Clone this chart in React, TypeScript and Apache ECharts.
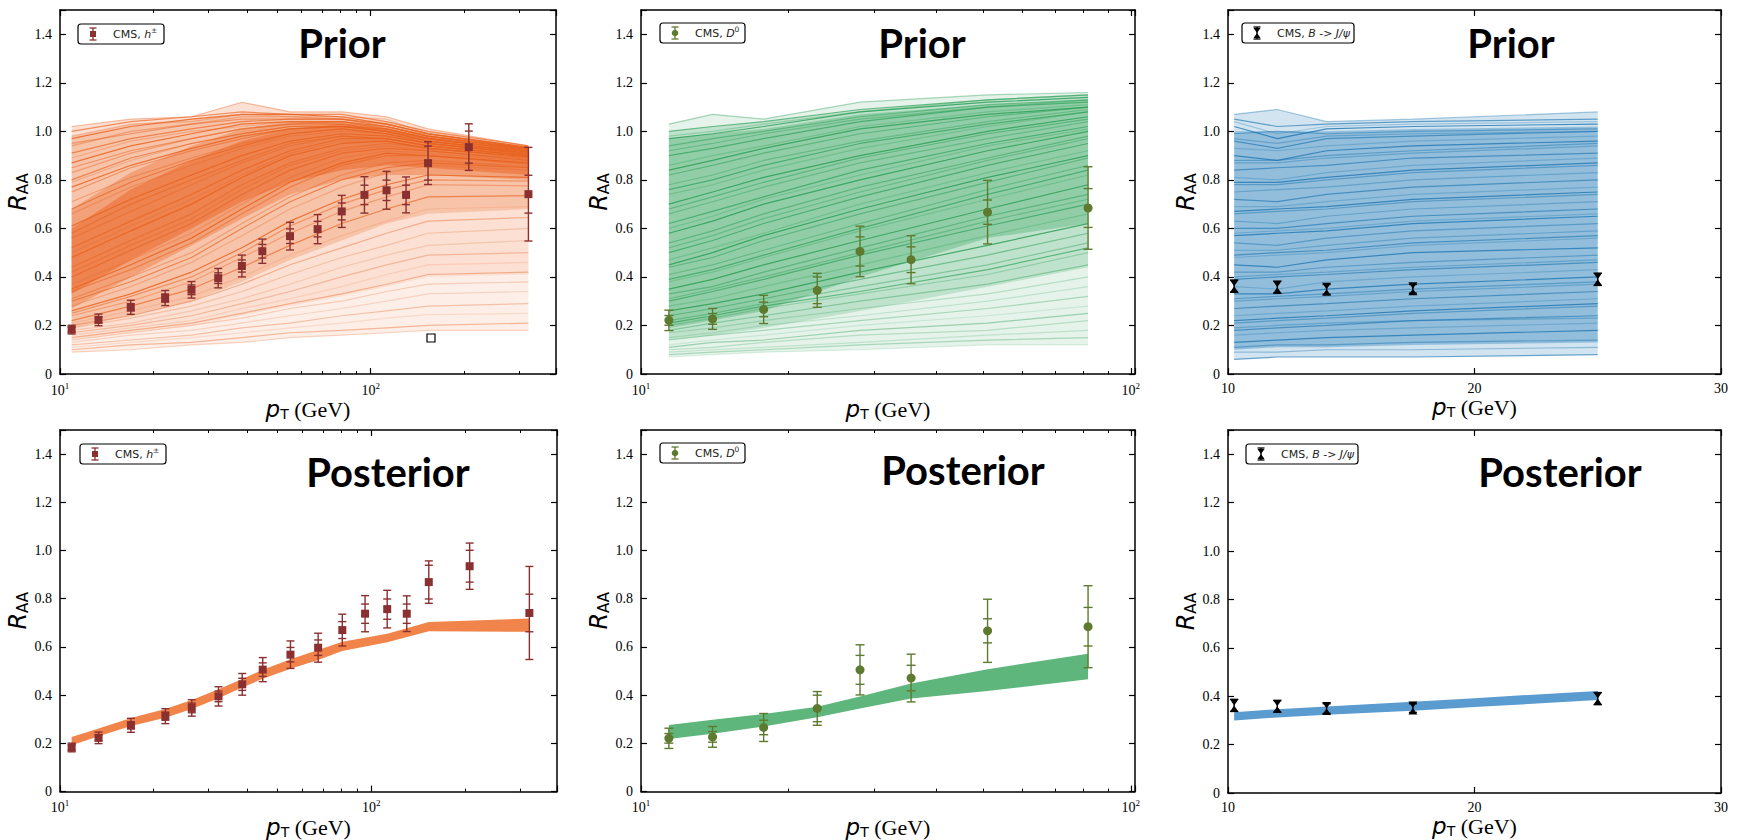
import React, { useEffect, useRef } from 'react';
import * as echarts from 'echarts';

// ---------------- CMS data ----------------
const H_PT = [10.9, 13.3, 16.9, 21.8, 26.5, 32.3, 38.5, 44.8, 55, 67.5, 80.7, 95.5, 112.5, 130, 153, 207, 322];
const H_RAA = [0.183, 0.223, 0.275, 0.313, 0.347, 0.395, 0.445, 0.506, 0.568, 0.597, 0.67, 0.738, 0.757, 0.738, 0.869, 0.935, 0.741];
const H_ERR_TOT = [0.018, 0.024, 0.029, 0.031, 0.034, 0.04, 0.045, 0.05, 0.057, 0.06, 0.066, 0.075, 0.078, 0.074, 0.088, 0.096, 0.193];
const H_ERR_STAT = [0.01, 0.012, 0.015, 0.017, 0.02, 0.022, 0.025, 0.028, 0.03, 0.032, 0.035, 0.04, 0.042, 0.04, 0.07, 0.066, 0.078];

const D_PT = [11.4, 14.0, 17.8, 22.9, 28.0, 35.6, 51.0, 81.8];
const D_RAA = [0.221, 0.227, 0.266, 0.345, 0.505, 0.471, 0.667, 0.684];
const D_ERR_TOT = [0.042, 0.043, 0.058, 0.07, 0.104, 0.099, 0.131, 0.17];
const D_ERR_STAT = [0.02, 0.022, 0.03, 0.055, 0.06, 0.053, 0.05, 0.08];

const B_PT = [10.25, 12.0, 14.0, 17.5, 25.0];
const B_RAA = [0.362, 0.358, 0.349, 0.351, 0.39];
const B_ERR_TOT = [0.025, 0.024, 0.02, 0.018, 0.025];

// ---------------- Posterior bands ----------------
const H_POST_PT = [10.9, 13.3, 16.9, 21.8, 26.5, 32.3, 38.5, 44.8, 55, 67.5, 80.7, 112.5, 153, 322];
const H_POST_LO = [0.192, 0.23, 0.272, 0.306, 0.343, 0.387, 0.432, 0.468, 0.51, 0.546, 0.583, 0.62, 0.665, 0.663];
const H_POST_HI = [0.226, 0.262, 0.305, 0.343, 0.38, 0.425, 0.467, 0.505, 0.549, 0.587, 0.622, 0.655, 0.704, 0.718];

const D_POST_PT = [11.4, 14.0, 17.8, 22.9, 28.0, 35.6, 51.0, 81.8];
const D_POST_LO = [0.218, 0.24, 0.27, 0.308, 0.345, 0.386, 0.417, 0.466];
const D_POST_HI = [0.276, 0.298, 0.322, 0.352, 0.395, 0.448, 0.508, 0.572];

const B_POST_PT = [10.25, 12.0, 14.0, 17.5, 20.0, 25.0];
const B_POST_LO = [0.300, 0.312, 0.323, 0.340, 0.355, 0.384];
const B_POST_HI = [0.334, 0.346, 0.357, 0.377, 0.392, 0.422];

// ---------------- Prior curves (read by eye, a subset of the ensemble) ----------------
const H_PRIOR_PT = [10.9, 16.9, 26.5, 38.5, 55, 80.7, 112.5, 153, 322];
const H_PRIOR = [
  [1.02, 1.05, 1.06, 1.12, 1.08, 1.08, 1.06, 1.01, 0.94],
  [1.00, 1.04, 1.06, 1.08, 1.07, 1.07, 1.04, 1.00, 0.94],
  [0.98, 1.03, 1.04, 1.07, 1.06, 1.06, 1.05, 0.99, 0.935],
  [0.97, 1.02, 1.05, 1.07, 1.07, 1.06, 1.03, 0.99, 0.935],
  [0.95, 0.99, 1.03, 1.05, 1.05, 1.05, 1.03, 0.99, 0.93],
  [0.94, 1.00, 1.03, 1.06, 1.06, 1.05, 1.03, 0.99, 0.93],
  [0.91, 0.97, 1.01, 1.04, 1.05, 1.05, 1.02, 0.98, 0.93],
  [0.89, 0.96, 1.00, 1.02, 1.04, 1.03, 1.02, 0.98, 0.93],
  [0.87, 0.94, 0.99, 1.03, 1.04, 1.04, 1.02, 0.98, 0.925],
  [0.85, 0.92, 0.97, 1.01, 1.03, 1.04, 1.01, 0.97, 0.925],
  [0.83, 0.91, 0.97, 1.01, 1.03, 1.03, 1.01, 0.97, 0.92],
  [0.80, 0.89, 0.95, 0.99, 1.02, 1.02, 1.01, 0.97, 0.92],
  [0.79, 0.88, 0.95, 0.99, 1.02, 1.03, 1.00, 0.97, 0.92],
  [0.77, 0.86, 0.93, 0.98, 1.01, 1.02, 1.00, 0.96, 0.915],
  [0.75, 0.85, 0.92, 0.97, 1.01, 1.02, 1.00, 0.96, 0.915],
  [0.71, 0.81, 0.89, 0.95, 0.99, 1.01, 0.99, 0.96, 0.91],
  [0.68, 0.79, 0.88, 0.94, 0.99, 1.01, 0.99, 0.95, 0.91],
  [0.66, 0.77, 0.86, 0.93, 0.98, 1.00, 0.99, 0.95, 0.91],
  [0.61, 0.72, 0.82, 0.90, 0.96, 0.99, 0.98, 0.95, 0.905],
  [0.58, 0.70, 0.80, 0.88, 0.95, 0.98, 0.97, 0.94, 0.90],
  [0.56, 0.67, 0.78, 0.87, 0.94, 0.98, 0.97, 0.94, 0.90],
  [0.52, 0.63, 0.74, 0.84, 0.92, 0.97, 0.97, 0.94, 0.90],
  [0.50, 0.61, 0.72, 0.82, 0.91, 0.96, 0.96, 0.93, 0.895],
  [0.48, 0.59, 0.70, 0.81, 0.90, 0.95, 0.96, 0.93, 0.895],
  [0.44, 0.55, 0.66, 0.78, 0.87, 0.93, 0.95, 0.93, 0.89],
  [0.42, 0.53, 0.64, 0.76, 0.86, 0.92, 0.94, 0.92, 0.885],
  [0.40, 0.51, 0.62, 0.74, 0.84, 0.91, 0.93, 0.92, 0.88],
  [0.37, 0.47, 0.58, 0.70, 0.81, 0.89, 0.92, 0.91, 0.875],
  [0.35, 0.45, 0.56, 0.68, 0.79, 0.87, 0.91, 0.90, 0.87],
  [0.34, 0.43, 0.54, 0.66, 0.77, 0.86, 0.90, 0.90, 0.865],
  [0.31, 0.40, 0.50, 0.62, 0.73, 0.82, 0.87, 0.88, 0.855],
  [0.30, 0.38, 0.48, 0.60, 0.71, 0.80, 0.85, 0.87, 0.85],
  [0.28, 0.36, 0.46, 0.57, 0.68, 0.77, 0.83, 0.86, 0.84],
  [0.26, 0.33, 0.42, 0.52, 0.63, 0.72, 0.78, 0.82, 0.81],
  [0.25, 0.32, 0.40, 0.50, 0.61, 0.70, 0.76, 0.80, 0.795],
  [0.24, 0.30, 0.38, 0.48, 0.58, 0.67, 0.73, 0.78, 0.775],
  [0.22, 0.28, 0.35, 0.44, 0.53, 0.62, 0.68, 0.73, 0.735],
  [0.21, 0.26, 0.32, 0.40, 0.49, 0.57, 0.63, 0.68, 0.69],
  [0.20, 0.24, 0.30, 0.37, 0.45, 0.52, 0.58, 0.63, 0.645],
  [0.19, 0.23, 0.28, 0.34, 0.41, 0.48, 0.53, 0.58, 0.60],
  [0.18, 0.21, 0.26, 0.31, 0.37, 0.44, 0.49, 0.53, 0.55],
  [0.17, 0.20, 0.24, 0.29, 0.34, 0.40, 0.45, 0.49, 0.50],
  [0.16, 0.19, 0.22, 0.27, 0.31, 0.36, 0.41, 0.45, 0.46],
  [0.15, 0.18, 0.21, 0.25, 0.29, 0.33, 0.37, 0.41, 0.42],
  [0.14, 0.17, 0.20, 0.23, 0.27, 0.30, 0.34, 0.37, 0.38],
  [0.13, 0.16, 0.18, 0.21, 0.24, 0.27, 0.30, 0.33, 0.34],
  [0.12, 0.14, 0.16, 0.19, 0.21, 0.24, 0.26, 0.28, 0.29],
  [0.11, 0.13, 0.15, 0.17, 0.19, 0.21, 0.23, 0.245, 0.25],
  [0.10, 0.12, 0.13, 0.15, 0.17, 0.18, 0.19, 0.20, 0.21],
  [0.09, 0.10, 0.12, 0.13, 0.15, 0.16, 0.17, 0.18, 0.18],
];
const H_LOWMID_LO = [0.14, 0.17, 0.20, 0.24, 0.28, 0.32, 0.36, 0.40, 0.41];
const H_MID_LO = [0.19, 0.24, 0.30, 0.38, 0.47, 0.55, 0.62, 0.66, 0.68];
const H_MID_HI = [0.98, 1.03, 1.05, 1.07, 1.07, 1.06, 1.04, 1.00, 0.935];
const H_CORE_LO = [0.27, 0.40, 0.53, 0.64, 0.74, 0.80, 0.82, 0.82, 0.80];
const H_CORE_HI = [0.68, 0.83, 0.94, 1.01, 1.04, 1.04, 1.02, 0.99, 0.935];
const H_DARK_LO = [0.33, 0.47, 0.60, 0.71, 0.79, 0.84, 0.86, 0.85, 0.82];
const H_DARK_HI = [0.60, 0.76, 0.88, 0.96, 1.01, 1.03, 1.01, 0.98, 0.93];

const D_PRIOR_PT = [11.4, 14.0, 17.8, 28.0, 51.0, 81.8];
const D_PRIOR = [
  [1.03, 1.07, 1.05, 1.12, 1.15, 1.16],
  [1.00, 1.02, 1.04, 1.09, 1.13, 1.15],
  [0.98, 1.00, 1.03, 1.08, 1.13, 1.15],
  [0.97, 0.99, 1.02, 1.08, 1.12, 1.14],
  [0.94, 0.97, 1.00, 1.06, 1.11, 1.13],
  [0.92, 0.95, 0.99, 1.05, 1.10, 1.13],
  [0.90, 0.93, 0.97, 1.04, 1.10, 1.12],
  [0.86, 0.90, 0.94, 1.02, 1.08, 1.11],
  [0.84, 0.88, 0.93, 1.01, 1.07, 1.10],
  [0.82, 0.86, 0.91, 0.99, 1.06, 1.10],
  [0.78, 0.82, 0.88, 0.96, 1.04, 1.09],
  [0.76, 0.80, 0.86, 0.95, 1.03, 1.08],
  [0.74, 0.78, 0.84, 0.93, 1.02, 1.08],
  [0.70, 0.75, 0.81, 0.90, 1.00, 1.06],
  [0.68, 0.73, 0.79, 0.89, 0.99, 1.05],
  [0.66, 0.71, 0.77, 0.87, 0.97, 1.04],
  [0.62, 0.67, 0.73, 0.84, 0.95, 1.02],
  [0.60, 0.65, 0.72, 0.82, 0.94, 1.01],
  [0.58, 0.63, 0.70, 0.80, 0.92, 1.00],
  [0.54, 0.59, 0.66, 0.77, 0.89, 0.98],
  [0.52, 0.57, 0.64, 0.75, 0.88, 0.97],
  [0.50, 0.55, 0.62, 0.73, 0.86, 0.95],
  [0.47, 0.52, 0.58, 0.70, 0.83, 0.92],
  [0.45, 0.50, 0.57, 0.68, 0.81, 0.90],
  [0.44, 0.48, 0.55, 0.66, 0.79, 0.89],
  [0.41, 0.45, 0.51, 0.62, 0.76, 0.86],
  [0.39, 0.43, 0.49, 0.60, 0.74, 0.84],
  [0.38, 0.42, 0.48, 0.59, 0.72, 0.82],
  [0.35, 0.39, 0.45, 0.55, 0.68, 0.78],
  [0.33, 0.36, 0.42, 0.52, 0.65, 0.74],
  [0.31, 0.35, 0.40, 0.50, 0.63, 0.72],
  [0.30, 0.34, 0.39, 0.49, 0.61, 0.70],
  [0.28, 0.31, 0.36, 0.45, 0.57, 0.66],
  [0.26, 0.29, 0.33, 0.42, 0.53, 0.62],
  [0.24, 0.27, 0.31, 0.39, 0.49, 0.58],
  [0.22, 0.25, 0.29, 0.36, 0.45, 0.54],
  [0.21, 0.24, 0.28, 0.34, 0.43, 0.52],
  [0.20, 0.23, 0.27, 0.33, 0.41, 0.50],
  [0.18, 0.21, 0.24, 0.30, 0.37, 0.45],
  [0.17, 0.19, 0.22, 0.27, 0.33, 0.40],
  [0.15, 0.17, 0.20, 0.24, 0.30, 0.36],
  [0.14, 0.16, 0.18, 0.22, 0.27, 0.32],
  [0.12, 0.14, 0.16, 0.20, 0.24, 0.28],
  [0.11, 0.13, 0.14, 0.18, 0.21, 0.25],
  [0.10, 0.11, 0.13, 0.16, 0.18, 0.22],
  [0.09, 0.10, 0.11, 0.13, 0.16, 0.18],
  [0.08, 0.09, 0.10, 0.12, 0.14, 0.15],
  [0.07, 0.08, 0.09, 0.10, 0.12, 0.12],
];
const D_MID_LO = [0.14, 0.16, 0.19, 0.26, 0.36, 0.44];
const D_MID_HI = [1.00, 1.02, 1.04, 1.09, 1.13, 1.15];
const D_CORE_LO = [0.19, 0.22, 0.26, 0.40, 0.56, 0.62];
const D_CORE_HI = [0.97, 0.99, 1.01, 1.07, 1.11, 1.13];

const B_PRIOR_PT = [10.25, 12.0, 14.0, 17.5, 25.0];
const B_PRIOR = [
  [1.07, 1.09, 1.04, 1.05, 1.08],
  [1.05, 1.02, 1.03, 1.04, 1.05],
  [1.04, 0.99, 1.02, 1.03, 1.04],
  [1.02, 0.97, 1.01, 1.02, 1.03],
  [0.99, 1.00, 0.99, 1.00, 1.01],
  [0.97, 0.95, 0.98, 0.99, 1.00],
  [0.96, 0.93, 0.97, 0.98, 1.00],
  [0.93, 0.92, 0.94, 0.96, 0.98],
  [0.90, 0.88, 0.92, 0.94, 0.96],
  [0.88, 0.88, 0.90, 0.92, 0.95],
  [0.87, 0.87, 0.89, 0.91, 0.94],
  [0.84, 0.85, 0.86, 0.89, 0.91],
  [0.81, 0.80, 0.83, 0.86, 0.89],
  [0.79, 0.79, 0.81, 0.84, 0.87],
  [0.78, 0.78, 0.80, 0.83, 0.86],
  [0.75, 0.76, 0.77, 0.80, 0.83],
  [0.72, 0.71, 0.74, 0.77, 0.80],
  [0.69, 0.69, 0.71, 0.74, 0.77],
  [0.67, 0.68, 0.69, 0.72, 0.75],
  [0.66, 0.67, 0.68, 0.71, 0.74],
  [0.63, 0.62, 0.65, 0.68, 0.71],
  [0.60, 0.60, 0.62, 0.65, 0.68],
  [0.58, 0.59, 0.60, 0.63, 0.66],
  [0.57, 0.58, 0.59, 0.62, 0.65],
  [0.54, 0.53, 0.56, 0.59, 0.62],
  [0.51, 0.51, 0.53, 0.56, 0.59],
  [0.49, 0.50, 0.51, 0.54, 0.57],
  [0.48, 0.49, 0.50, 0.53, 0.56],
  [0.45, 0.44, 0.47, 0.50, 0.52],
  [0.42, 0.42, 0.44, 0.46, 0.49],
  [0.40, 0.41, 0.42, 0.44, 0.47],
  [0.39, 0.40, 0.41, 0.43, 0.46],
  [0.36, 0.35, 0.38, 0.40, 0.43],
  [0.33, 0.33, 0.35, 0.37, 0.40],
  [0.31, 0.32, 0.33, 0.35, 0.38],
  [0.30, 0.31, 0.32, 0.34, 0.37],
  [0.27, 0.28, 0.29, 0.31, 0.34],
  [0.24, 0.25, 0.26, 0.28, 0.31],
  [0.22, 0.23, 0.24, 0.26, 0.29],
  [0.21, 0.22, 0.23, 0.25, 0.28],
  [0.19, 0.20, 0.21, 0.22, 0.23],
  [0.18, 0.19, 0.20, 0.22, 0.24],
  [0.16, 0.17, 0.18, 0.19, 0.21],
  [0.13, 0.14, 0.15, 0.16, 0.18],
  [0.11, 0.12, 0.12, 0.13, 0.14],
  [0.09, 0.09, 0.10, 0.10, 0.11],
  [0.06, 0.07, 0.07, 0.07, 0.08],
];
const B_CORE_LO = [0.10, 0.11, 0.11, 0.12, 0.13];
const B_CORE_HI = [1.00, 1.00, 1.00, 1.01, 1.02];

const Y_TICKS = [0, 0.2, 0.4, 0.6, 0.8, 1.0, 1.2, 1.4];

// ---------------- layout ----------------
const GRIDS = [
  { left: 60, top: 10, width: 496, height: 364 },
  { left: 641, top: 10, width: 494, height: 364 },
  { left: 1228, top: 10, width: 493, height: 364 },
  { left: 60, top: 430, width: 497, height: 363 },
  { left: 641, top: 430, width: 494, height: 363 },
  { left: 1228, top: 430, width: 493, height: 363 },
];
const X_RANGES: any[] = [
  { type: 'log', min: 10, max: 395 },
  { type: 'log', min: 10, max: 102 },
  { type: 'value', min: 10, max: 30, interval: 10 },
];

const SERIF = 'Liberation Serif';
const SANS = 'DejaVu Sans';

const ORANGE = [232, 96, 28];
const GREEN = [40, 158, 84];
const BLUE = [31, 119, 180];
const rgba = (c: number[], a: number) => `rgba(${c[0]},${c[1]},${c[2]},${a})`;
const LINE_ALPHAS = [0.4, 0.65, 0.3, 0.8, 0.5];

function xAxesFor(gi: number) {
  const r = X_RANGES[gi % 3];
  const isLog = r.type === 'log';
  const base: any = {
    gridIndex: gi,
    type: r.type,
    min: r.min,
    max: r.max,
    splitLine: { show: false },
    axisLine: { show: true, onZero: false, lineStyle: { color: '#000', width: 1.5 } },
    axisTick: { show: true, inside: true, length: 6, lineStyle: { color: '#000', width: 1.2 } },
    minorTick: isLog
      ? { show: true, splitNumber: 9, length: 3, lineStyle: { color: '#000', width: 1 } }
      : { show: false },
  };
  if (isLog) base.logBase = 10;
  if (r.interval) base.interval = r.interval;
  const bottom = {
    ...base,
    position: 'bottom',
    axisLabel: {
      show: true,
      color: '#000',
      fontFamily: SERIF,
      fontSize: 14,
      margin: 7,
      formatter: (v: number) => {
        if (isLog) {
          const l = Math.log10(v);
          const rr = Math.round(l);
          return Math.abs(l - rr) < 1e-6 ? '10{s|' + rr + '}' : '';
        }
        return String(Math.round(v));
      },
      rich: { s: { fontFamily: SERIF, fontSize: 9, padding: [0, 0, 9, 0], color: '#000' } },
    },
    name: '{p|p}{t|T}{g| (GeV)}',
    nameLocation: 'middle',
    nameGap: 18,
    nameTextStyle: {
      color: '#000',
      rich: {
        p: { fontFamily: SANS, fontStyle: 'italic', fontSize: 23, color: '#000' },
        t: { fontFamily: SANS, fontSize: 14, padding: [10, 0, 0, 0], color: '#000' },
        g: { fontFamily: SERIF, fontSize: 22, color: '#000' },
      },
    },
  };
  const top = { ...base, position: 'top', axisLabel: { show: false } };
  return [bottom, top];
}

function yAxesFor(gi: number) {
  const base: any = {
    gridIndex: gi,
    type: 'value',
    min: 0,
    max: 1.5,
    interval: 0.2,
    splitLine: { show: false },
    axisLine: { show: true, onZero: false, lineStyle: { color: '#000', width: 1.5 } },
    axisTick: { show: true, inside: true, length: 6, lineStyle: { color: '#000', width: 1.2 } },
  };
  const left = {
    ...base,
    position: 'left',
    axisLabel: {
      show: true,
      color: '#000',
      fontFamily: SERIF,
      fontSize: 14,
      margin: 8,
      formatter: (v: number) => {
        const t = Y_TICKS.find((k) => Math.abs(k - v) < 1e-6);
        if (t === undefined) return '';
        return t === 0 ? '0' : t.toFixed(1);
      },
    },
    name: '{r|R}{s|AA}',
    nameLocation: 'middle',
    nameRotate: 90,
    nameGap: 27,
    nameTextStyle: {
      color: '#000',
      rich: {
        r: { fontFamily: SANS, fontStyle: 'italic', fontSize: 24, color: '#000' },
        s: { fontFamily: SANS, fontSize: 15, padding: [10, 0, 0, 0], color: '#000' },
      },
    },
  };
  const right = { ...base, position: 'right', axisLabel: { show: false } };
  return [left, right];
}

function bandSeries(gi: number, xs: number[], lo: number[], hi: number[], color: string, z: number) {
  return {
    type: 'custom',
    xAxisIndex: 2 * gi,
    yAxisIndex: 2 * gi,
    z,
    silent: true,
    clip: true,
    data: [[xs[0], lo[0]]],
    renderItem: (_p: any, api: any) => {
      const pts: number[][] = [];
      for (let i = 0; i < xs.length; i++) pts.push(api.coord([xs[i], hi[i]]));
      for (let i = xs.length - 1; i >= 0; i--) pts.push(api.coord([xs[i], lo[i]]));
      return { type: 'polygon', shape: { points: pts }, style: { fill: color, stroke: 'none' } };
    },
  };
}

function curveSeries(gi: number, xs: number[], ys: number[], color: string, z: number) {
  return {
    type: 'line',
    xAxisIndex: 2 * gi,
    yAxisIndex: 2 * gi,
    z,
    silent: true,
    symbol: 'none',
    lineStyle: { color, width: 1.2 },
    data: xs.map((x, i) => [x, ys[i]]),
  };
}

function errorSeries(gi: number, xs: number[], ys: number[], tot: number[], stat: number[] | null, color: string, capHalf: number) {
  return {
    type: 'custom',
    xAxisIndex: 2 * gi,
    yAxisIndex: 2 * gi,
    z: 8,
    silent: true,
    data: xs.map((x, i) => [x, ys[i], tot[i], stat ? stat[i] : 0]),
    encode: { x: 0, y: 1 },
    renderItem: (_p: any, api: any) => {
      const x = api.value(0);
      const y = api.value(1);
      const t = api.value(2);
      const s = api.value(3);
      const pt = api.coord([x, y + t]);
      const pb = api.coord([x, y - t]);
      const st = { stroke: color, lineWidth: 1.4 };
      const cap = (p: number[]) => ({
        type: 'line',
        shape: { x1: p[0] - capHalf, y1: p[1], x2: p[0] + capHalf, y2: p[1] },
        style: st,
      });
      const children: any[] = [
        { type: 'line', shape: { x1: pt[0], y1: pt[1], x2: pb[0], y2: pb[1] }, style: st },
        cap(pt),
        cap(pb),
      ];
      if (s > 0) {
        children.push(cap(api.coord([x, y + s])));
        children.push(cap(api.coord([x, y - s])));
      }
      return { type: 'group', children };
    },
  };
}

const HOURGLASS = 'path://M0,0L10,0L5,7L10,14L0,14L5,7Z';

function pointSeries(gi: number, xs: number[], ys: number[], symbol: string, size: any, color: string) {
  return {
    type: 'scatter',
    xAxisIndex: 2 * gi,
    yAxisIndex: 2 * gi,
    z: 9,
    silent: true,
    symbol,
    symbolSize: size,
    itemStyle: { color, opacity: 1 },
    data: xs.map((x, i) => [x, ys[i]]),
  };
}

function legendGraphic(x: number, y: number, w: number, kind: 'h' | 'd' | 'b') {
  const h = 20;
  const cx = x + 15;
  const cy = y + h / 2;
  const color = kind === 'h' ? '#8b3030' : kind === 'd' ? '#5e7a2e' : '#000';
  const st = { stroke: color, lineWidth: 1.3 };
  const children: any[] = [
    { type: 'rect', shape: { x, y, width: w, height: h, r: 3 }, style: { fill: '#fff', stroke: '#000', lineWidth: 1.2 } },
    { type: 'line', shape: { x1: cx, y1: cy - 6, x2: cx, y2: cy + 6 }, style: st },
    { type: 'line', shape: { x1: cx - 3.5, y1: cy - 6, x2: cx + 3.5, y2: cy - 6 }, style: st },
    { type: 'line', shape: { x1: cx - 3.5, y1: cy + 6, x2: cx + 3.5, y2: cy + 6 }, style: st },
  ];
  if (kind === 'h') children.push({ type: 'rect', shape: { x: cx - 3, y: cy - 3, width: 6, height: 6 }, style: { fill: color } });
  if (kind === 'd') children.push({ type: 'circle', shape: { cx, cy, r: 3.3 }, style: { fill: color } });
  if (kind === 'b')
    children.push({
      type: 'polygon',
      shape: { points: [[cx - 3.5, cy - 5], [cx + 3.5, cy - 5], [cx, cy], [cx + 3.5, cy + 5], [cx - 3.5, cy + 5], [cx, cy]] },
      style: { fill: '#000' },
    });
  const text =
    kind === 'h' ? '{n|CMS, }{i|h}{u|±}' : kind === 'd' ? '{n|CMS, }{i|D}{u|0}' : '{n|CMS, }{i|B}{n| -> }{i|J/ψ}';
  children.push({
    type: 'text',
    x: x + 35,
    y: cy,
    style: {
      text,
      fill: '#222',
      verticalAlign: 'middle',
      align: 'left',
      rich: {
        n: { fontFamily: SANS, fontSize: 11, fill: '#222' },
        i: { fontFamily: SANS, fontStyle: 'italic', fontSize: 11, fill: '#222' },
        u: { fontFamily: SANS, fontSize: 7.5, padding: [0, 0, 7, 0], fill: '#222' },
      },
    },
  });
  return { type: 'group', z: 50, children };
}

function titleGraphic(x: number, y: number, text: string) {
  return {
    type: 'text',
    x,
    y,
    z: 60,
    style: {
      text,
      fontFamily: 'Lato',
      fontWeight: 'bold',
      fontSize: 40,
      fill: '#000',
      align: 'center',
      verticalAlign: 'middle',
    },
  };
}

// lines of the sparse lower part of the ensemble are drawn fainter
function priorLines(gi: number, xs: number[], curves: number[][], col: number[], fadeBelow: number) {
  return curves.map((c, i) => {
    const a = LINE_ALPHAS[i % LINE_ALPHAS.length] * (c[c.length - 1] < fadeBelow ? 0.5 : 1);
    return curveSeries(gi, xs, c, rgba(col, a), 2);
  });
}

function buildOption() {
  const xAxis: any[] = [];
  const yAxis: any[] = [];
  for (let g = 0; g < 6; g++) {
    xAxis.push(...xAxesFor(g));
    yAxis.push(...yAxesFor(g));
  }
  const series: any[] = [];

  // ---- Prior: h ----
  series.push(bandSeries(0, H_PRIOR_PT, H_PRIOR[H_PRIOR.length - 1], H_PRIOR[0], rgba(ORANGE, 0.1), 1));
  series.push(bandSeries(0, H_PRIOR_PT, H_LOWMID_LO, H_PRIOR[0], rgba(ORANGE, 0.1), 1));
  series.push(bandSeries(0, H_PRIOR_PT, H_MID_LO, H_MID_HI, rgba(ORANGE, 0.22), 1));
  series.push(bandSeries(0, H_PRIOR_PT, H_CORE_LO, H_CORE_HI, rgba(ORANGE, 0.35), 1));
  series.push(bandSeries(0, H_PRIOR_PT, H_DARK_LO, H_DARK_HI, rgba(ORANGE, 0.45), 1));
  series.push(...priorLines(0, H_PRIOR_PT, H_PRIOR, ORANGE, 0.7));
  // ---- Prior: D ----
  series.push(bandSeries(1, D_PRIOR_PT, D_PRIOR[D_PRIOR.length - 1], D_PRIOR[0], rgba(GREEN, 0.12), 1));
  series.push(bandSeries(1, D_PRIOR_PT, D_MID_LO, D_MID_HI, rgba(GREEN, 0.2), 1));
  series.push(bandSeries(1, D_PRIOR_PT, D_CORE_LO, D_CORE_HI, rgba(GREEN, 0.3), 1));
  series.push(...priorLines(1, D_PRIOR_PT, D_PRIOR, GREEN, 0.5));
  // ---- Prior: B ----
  series.push(bandSeries(2, B_PRIOR_PT, B_PRIOR[B_PRIOR.length - 1], B_PRIOR[0], rgba(BLUE, 0.2), 1));
  series.push(bandSeries(2, B_PRIOR_PT, B_CORE_LO, B_CORE_HI, rgba(BLUE, 0.35), 1));
  series.push(...priorLines(2, B_PRIOR_PT, B_PRIOR, BLUE, 0));

  // ---- Posterior bands ----
  series.push(bandSeries(3, H_POST_PT, H_POST_LO, H_POST_HI, '#f0844a', 3));
  series.push(bandSeries(4, D_POST_PT, D_POST_LO, D_POST_HI, '#5fb67c', 3));
  series.push(bandSeries(5, B_POST_PT, B_POST_LO, B_POST_HI, '#5a9bd0', 3));

  // ---- Data points on all panels ----
  for (const g of [0, 3]) {
    series.push(errorSeries(g, H_PT, H_RAA, H_ERR_TOT, H_ERR_STAT, '#8b3030', 4));
    series.push(pointSeries(g, H_PT, H_RAA, 'rect', 8, '#8b3030'));
  }
  for (const g of [1, 4]) {
    series.push(errorSeries(g, D_PT, D_RAA, D_ERR_TOT, D_ERR_STAT, '#5e7a2e', 4.5));
    series.push(pointSeries(g, D_PT, D_RAA, 'circle', 9, '#5e7a2e'));
  }
  for (const g of [2, 5]) {
    series.push(errorSeries(g, B_PT, B_RAA, B_ERR_TOT, null, '#000', 4));
    series.push(pointSeries(g, B_PT, B_RAA, HOURGLASS, [9, 13], '#000'));
  }

  const graphic: any[] = [
    titleGraphic(342, 43, 'Prior'),
    titleGraphic(922, 43, 'Prior'),
    titleGraphic(1511, 43, 'Prior'),
    titleGraphic(388, 472, 'Posterior'),
    titleGraphic(963, 470, 'Posterior'),
    titleGraphic(1560, 472, 'Posterior'),
    legendGraphic(78, 24, 86, 'h'),
    legendGraphic(660, 23, 85, 'd'),
    legendGraphic(1242, 23, 112, 'b'),
    legendGraphic(80, 444, 86, 'h'),
    legendGraphic(660, 443, 85, 'd'),
    legendGraphic(1246, 444, 112, 'b'),
    {
      type: 'rect',
      z: 70,
      shape: { x: 427, y: 334, width: 8, height: 8 },
      style: { fill: '#fff', stroke: '#000', lineWidth: 1.2 },
    },
  ];

  return {
    animation: false,
    backgroundColor: '#fff',
    grid: GRIDS.map((g) => ({ ...g, containLabel: false })),
    xAxis,
    yAxis,
    series,
    graphic,
  };
}

export default function App() {
  const ref = useRef<HTMLDivElement>(null);
  useEffect(() => {
    const chart = echarts.init(ref.current as HTMLDivElement, null, { renderer: 'svg' });
    chart.setOption(buildOption() as any);
    return () => chart.dispose();
  }, []);
  return (
    <div
      ref={ref}
      style={{ position: 'absolute', left: 0, top: 0, width: 1740, height: 840, background: '#fff' }}
    />
  );
}
